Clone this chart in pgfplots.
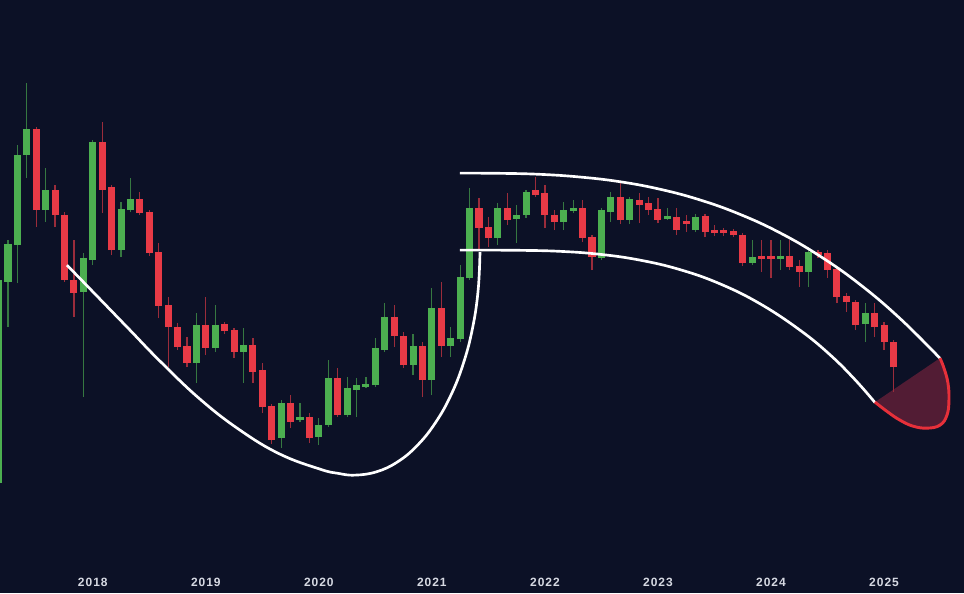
\documentclass[border=0pt]{standalone}
\usepackage{fontspec}
\usepackage{pgfplots}
\usepackage{pgfplotstable}
\pgfplotsset{compat=1.18}
\newfontfamily\labfont{Liberation Sans Bold}[LetterSpace=8]
\definecolor{bg}{RGB}{12,17,38}
\definecolor{gr}{RGB}{76,175,80}
\definecolor{rd}{RGB}{232,58,70}
\definecolor{lab}{RGB}{214,217,226}
\definecolor{fillr}{RGB}{82,28,52}
\definecolor{arc}{RGB}{230,48,58}

% candles: k = month index (0 = Apr 2017), values = chart pixel rows (o=open, c=close, hi=top of wick, lo=bottom of wick)
\pgfplotstableread{
k o c hi lo
-1 483 280 278 485
0 282 244 240 327
1 245 155 145 283
2 155 129 83 178
4 210 190 168 222
8 292 258 253 397
9 260 142 140 265
12 250 209 202 257
13 210 199 178 212
20 363 325 313 383
22 348 325 305 352
25 352 345 328 383
29 438 403 400 448
31 420 417 403 422
33 437 425 418 445
34 425 378 360 427
36 415 388 377 417
37 390 385 378 417
38 387 384 377 388
39 385 348 338 387
40 350 317 303 352
43 365 346 334 375
45 380 308 288 395
47 346 338 327 357
48 339 277 265 342
49 278 208 188 280
52 238 208 203 245
54 219 215 205 243
55 215 192 190 218
59 222 210 202 230
60 211 208 200 213
63 258 210 208 260
64 212 197 192 222
66 220 199 197 224
70 219 216 208 220
73 230 217 214 232
79 263 257 240 265
82 259 256 240 270
85 272 252 247 287
91 324 313 303 342
}\greentab

\pgfplotstableread{
k o c hi lo
3 129 210 127 227
5 190 215 185 227
6 215 280 212 282
7 280 293 240 317
10 142 190 122 213
11 187 250 185 255
14 199 213 192 215
15 212 253 210 256
16 252 306 243 318
17 305 327 297 367
18 327 347 323 350
19 346 363 337 367
21 325 348 297 355
23 324 331 322 334
24 330 352 328 358
26 345 372 338 383
27 370 407 363 413
28 406 440 404 444
30 403 422 395 428
32 417 438 413 443
35 378 415 368 417
41 317 336 305 347
42 336 365 332 368
44 346 380 342 397
46 308 346 282 357
50 208 228 198 250
51 227 238 217 247
53 208 220 193 225
56 190 195 177 197
57 193 215 185 228
58 215 222 210 230
61 208 238 200 242
62 237 257 235 270
65 197 220 183 224
67 200 205 193 223
68 203 210 197 215
69 209 220 198 223
71 217 230 208 235
72 221 224 215 232
74 216 232 214 237
75 230 233 225 236
76 230 233 228 236
77 231 235 229 237
78 235 263 233 266
80 256 259 240 272
81 256 259 240 278
83 256 267 240 270
84 266 272 260 287
86 252 255 250 258
87 253 270 250 278
88 269 297 268 303
89 296 302 293 312
90 302 325 300 330
92 313 327 303 337
93 325 342 322 350
94 342 367 340 392
}\redtab

% overlay curves in chart pixels
\pgfplotstableread{
px py
67 265
100 299
130 330
160 361
200 399
240 430
280 454
320 469
338 473.2
355 475
376.7 471.6
397.8 461.6
417.5 445.1
435.3 422.8
450.8 395.3
463.3 363.5
472.5 328.3
478.1 290.7
480 252
}\cup

\pgfplotstableread{
px py
460 250
480 250
520 250.2
560 251.2
600 254.2
640 260.0
680 269.5
720 283.7
760 303.6
800 330.0
830 354.6
855 379.5
875 402.4
}\lowline

\pgfplotstableread{
px py
460 173
500 173.2
540 174.2
580 176.9
620 181.6
660 189.1
700 199.8
740 214.2
780 232.7
820 256.0
860 284.3
900 318.3
940 358.1
}\upline

\pgfplotstableread{
px py
875 402
888 412
900 420
913 426
927 428
940 425
947 415
949 400
948 383
944 368
940 358
}\redarc

\begin{document}
\begin{tikzpicture}
\begin{axis}[
  scale only axis,
  width=723pt, height=444.75pt,
  xmin=-0.849, xmax=101.49,
  ymin=0, ymax=593,
  axis background/.style={fill=bg},
  axis line style={draw=none},
  major tick length=0pt,
  ytick=\empty,
  xtick={9,21,33,45,57,69,81,93},
  xticklabels={2018,2019,2020,2021,2022,2023,2024,2025},
  xticklabel style={anchor=center, yshift=8.25pt, text=lab,
    font=\labfont\fontsize{9}{10}\selectfont},
  clip=true,
]
% shaded target zone
\addplot[draw=none, fill=fillr, smooth, tension=0.7]
  table[x expr=(\thisrow{px}-8)/9.42, y expr=593-\thisrow{py}] {\redarc} -- cycle;

% wicks
\addplot[draw=none, error bars/.cd, y dir=plus, y explicit, error mark=none,
  error bar style={draw=gr!65!bg, line width=0.9pt}]
  table[x=k, y expr=593-\thisrow{lo}, y error plus expr=\thisrow{lo}-\thisrow{hi}] {\greentab};
\addplot[draw=none, error bars/.cd, y dir=plus, y explicit, error mark=none,
  error bar style={draw=rd!65!bg, line width=0.9pt}]
  table[x=k, y expr=593-\thisrow{lo}, y error plus expr=\thisrow{lo}-\thisrow{hi}] {\redtab};
% bodies
\addplot[draw=none, error bars/.cd, y dir=plus, y explicit, error mark=none,
  error bar style={draw=gr, line width=5.3pt}]
  table[x=k, y expr=593-\thisrow{o}, y error plus expr=\thisrow{o}-\thisrow{c}] {\greentab};
\addplot[draw=none, error bars/.cd, y dir=plus, y explicit, error mark=none,
  error bar style={draw=rd, line width=5.3pt}]
  table[x=k, y expr=593-\thisrow{c}, y error plus expr=\thisrow{c}-\thisrow{o}] {\redtab};

% overlay curves
\addplot[white, line width=2pt, smooth, tension=0.7]
  table[x expr=(\thisrow{px}-8)/9.42, y expr=593-\thisrow{py}] {\cup};
\addplot[white, line width=2pt, smooth, tension=0.7]
  table[x expr=(\thisrow{px}-8)/9.42, y expr=593-\thisrow{py}] {\lowline};
\addplot[white, line width=2pt, smooth, tension=0.7]
  table[x expr=(\thisrow{px}-8)/9.42, y expr=593-\thisrow{py}] {\upline};
\addplot[arc, line width=2.2pt, smooth, tension=0.7]
  table[x expr=(\thisrow{px}-8)/9.42, y expr=593-\thisrow{py}] {\redarc};
\end{axis}
\end{tikzpicture}
\end{document}
